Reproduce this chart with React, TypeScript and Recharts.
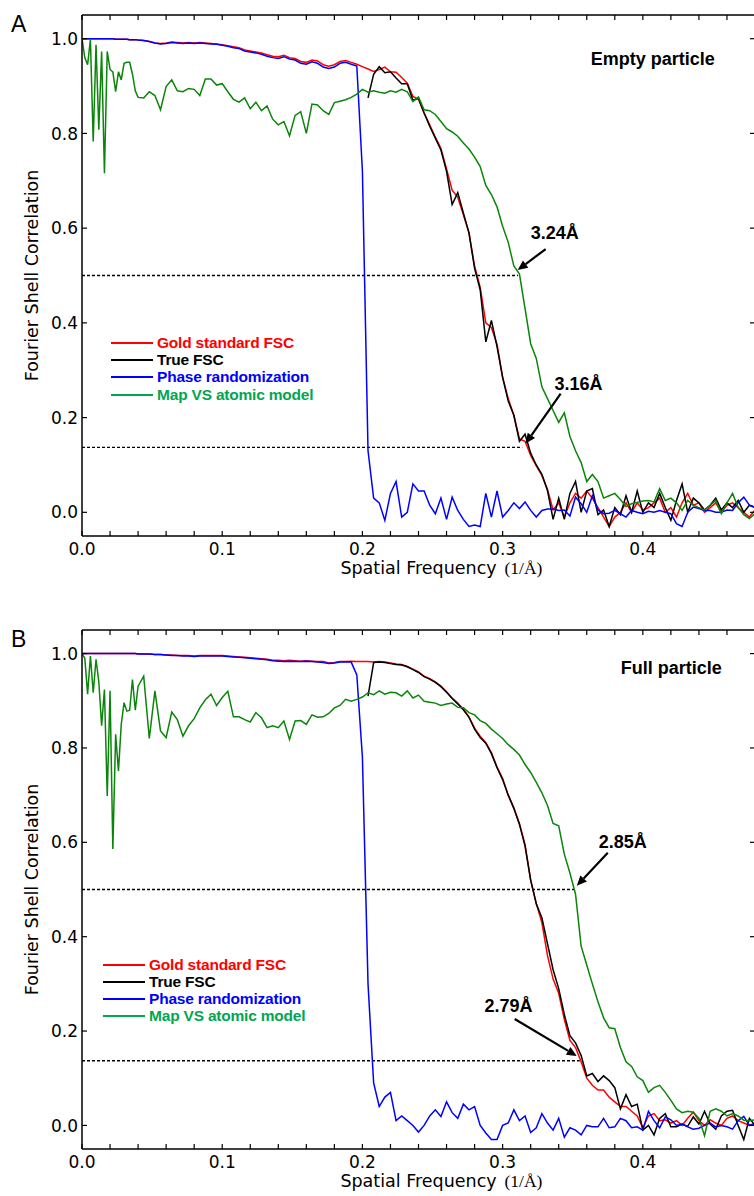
import React from "react";
import {
  LineChart,
  Line,
  XAxis,
  YAxis,
  ReferenceLine,
  ReferenceDot,
  Legend,
} from "recharts";

// shell frequencies (1/Å): 0.002 steps up to 0.04, then 0.004 steps up to 0.48
const freq: number[] = [];
for (let j = 0; j <= 20; j++) freq.push((j * 2) / 1000);
for (let k = 0; k < 110; k++) freq.push((44 + k * 4) / 1000);

const xTicks = [
  0, 0.02, 0.04, 0.06, 0.08, 0.1, 0.12, 0.14, 0.16, 0.18, 0.2, 0.22, 0.24,
  0.26, 0.28, 0.3, 0.32, 0.34, 0.36, 0.38, 0.4, 0.42, 0.44, 0.46, 0.48,
];
const yTicks = [0, 0.2, 0.4, 0.6, 0.8, 1.0];

// ---- panel A : empty particle ----
const goldA = [
  1.0, 1.0, 1.0, 1.0, 1.0, 1.0, 1.0, 1.0, 1.0, 1.0,
  1.0, 1.0, 0.999, 0.999, 0.999, 0.999, 0.999, 0.998, 0.998, 0.998,
  0.997,
  0.996, 0.994, 0.991, 0.99, 0.991, 0.993, 0.992, 0.991, 0.992, 0.991,
  0.992, 0.991, 0.99, 0.989, 0.987, 0.985, 0.983, 0.981, 0.976, 0.974,
  0.972, 0.97, 0.966, 0.963, 0.962, 0.965, 0.96, 0.958, 0.952, 0.95,
  0.955, 0.953, 0.945, 0.942, 0.945, 0.952, 0.954, 0.95, 0.946, 0.941,
  0.936, 0.931, 0.935, 0.94, 0.93, 0.929, 0.918, 0.906, 0.878, 0.872,
  0.843, 0.818, 0.792, 0.768, 0.725, 0.68, 0.665, 0.628, 0.59, 0.52,
  0.475, 0.4, 0.39, 0.355, 0.285, 0.24, 0.205, 0.155, 0.15, 0.12,
  0.098, 0.078, 0.048, 0.005, 0.02, -0.01, 0.02, 0.04, 0.03, 0.045,
  0.03, 0.01, -0.01, -0.03, -0.01, 0.0, 0.02, 0.0, 0.02, 0.005,
  0.01, 0.02, 0.03, 0.0, 0.01, -0.01, 0.02, 0.04, 0.015, 0.02,
  0.0, 0.01, 0.02, 0.0, 0.015, 0.02, 0.01, 0.0, -0.01, 0.005,
];
// true FSC only plotted past the randomisation point
const trueStartA = 61;
const trueA = [
  0.875, 0.925, 0.941, 0.928, 0.93, 0.917, 0.905, 0.905, 0.87, 0.874,
  0.843, 0.815, 0.79, 0.765, 0.72, 0.65, 0.675, 0.632, 0.59, 0.515,
  0.47, 0.36, 0.405, 0.35, 0.285, 0.235, 0.205, 0.15, 0.165, 0.125,
  0.1, 0.08, 0.046, -0.015, 0.03, -0.015, 0.04, 0.065, 0.0, 0.045,
  0.05, -0.005, 0.005, -0.03, 0.01, -0.005, 0.035, 0.0, 0.045, 0.0,
  0.02, 0.01, 0.04, 0.01, -0.017, 0.025, 0.06, 0.0, 0.03, 0.02,
  0.005, 0.015, 0.03, 0.005, 0.02, 0.01, 0.025, 0.0, 0.015, 0.01,
];
const phaseA = [
  1.0, 1.0, 1.0, 1.0, 1.0, 1.0, 1.0, 1.0, 1.0, 1.0,
  1.0, 1.0, 0.999, 0.999, 0.999, 0.999, 0.999, 0.998, 0.998, 0.998,
  0.997,
  0.996, 0.994, 0.991, 0.989, 0.99, 0.992, 0.991, 0.99, 0.991, 0.99,
  0.991, 0.99, 0.989, 0.988, 0.986, 0.984, 0.981, 0.979, 0.974, 0.972,
  0.97, 0.967, 0.963, 0.96, 0.958, 0.962, 0.957, 0.955, 0.948, 0.946,
  0.951, 0.948, 0.94, 0.937, 0.94, 0.948, 0.95, 0.946, 0.942, 0.72,
  0.13, 0.03, 0.02, -0.017, 0.04, 0.065, -0.01, 0.0, 0.06, 0.045,
  0.045, 0.015, -0.003, 0.03, -0.015, 0.032, 0.004, -0.015, -0.03, -0.027,
  -0.03, 0.04, -0.01, 0.045, -0.01, 0.004, 0.02, 0.008, 0.022, 0.004,
  -0.01, 0.004, 0.007, 0.007, 0.004, 0.005, -0.008, 0.032, 0.018, 0.0,
  0.035, 0.005, -0.003, -0.002, 0.004, -0.003, -0.01, 0.004, 0.0, -0.003,
  0.002, 0.0, 0.004, 0.0, -0.003, -0.024, -0.03, 0.0, 0.011, 0.008,
  0.004, 0.004, 0.0, 0.0, 0.005, 0.004, 0.02, 0.032, 0.015, 0.011,
];
const modelA = [
  1.0, 0.96, 0.945, 0.998, 0.783, 0.987, 0.808, 0.973, 0.716, 0.973,
  0.935, 0.93, 0.888, 0.93, 0.913, 0.948, 0.95, 0.95, 0.925, 0.89,
  0.876,
  0.875, 0.888, 0.88, 0.85, 0.899, 0.913, 0.89, 0.888, 0.895, 0.893,
  0.88, 0.915, 0.915, 0.902, 0.905, 0.888, 0.872, 0.866, 0.875, 0.852,
  0.866, 0.848, 0.858, 0.83, 0.818, 0.825, 0.795, 0.838, 0.846, 0.8,
  0.862, 0.86, 0.848, 0.84, 0.865, 0.868, 0.871, 0.876, 0.883, 0.893,
  0.887, 0.89, 0.887, 0.885, 0.89, 0.887, 0.893, 0.888, 0.867, 0.877,
  0.85, 0.848, 0.84, 0.825, 0.81, 0.803, 0.794, 0.78, 0.767, 0.75,
  0.73, 0.69, 0.671, 0.645, 0.604, 0.57, 0.52, 0.503, 0.43, 0.356,
  0.325, 0.265, 0.24, 0.215, 0.19, 0.21, 0.16, 0.13, 0.105, 0.065,
  0.08, 0.065, 0.03, 0.035, 0.04, 0.027, 0.012, 0.018, 0.021, 0.024,
  0.025, 0.022, 0.05, 0.025, 0.03, 0.02, 0.004, 0.025, 0.015, 0.01,
  0.005, 0.015, 0.025, -0.003, 0.02, 0.04, 0.01, -0.005, -0.013, -0.003,
];

// ---- panel B : full particle ----
const goldB = [
  1.0, 1.0, 1.0, 1.0, 1.0, 1.0, 1.0, 1.0, 1.0, 1.0,
  1.0, 1.0, 1.0, 1.0, 1.0, 1.0, 1.0, 1.0, 1.0, 1.0,
  0.999,
  0.999, 0.999, 0.998, 0.998, 0.997, 0.997, 0.996, 0.996, 0.996, 0.995,
  0.996, 0.996, 0.996, 0.996, 0.996, 0.995, 0.994, 0.993, 0.992, 0.991,
  0.99, 0.989, 0.988, 0.986, 0.986, 0.985, 0.986, 0.985, 0.984, 0.985,
  0.984, 0.983, 0.983, 0.98, 0.981, 0.983, 0.983, 0.984, 0.983, 0.983,
  0.983, 0.982, 0.983, 0.982, 0.98, 0.978, 0.977, 0.973, 0.967, 0.961,
  0.952, 0.947, 0.94, 0.931, 0.919, 0.906, 0.895, 0.882, 0.866, 0.842,
  0.825, 0.811, 0.79, 0.76, 0.735, 0.7, 0.673, 0.64, 0.595, 0.52,
  0.47, 0.43, 0.36, 0.31, 0.28, 0.225, 0.18, 0.165, 0.135, 0.1,
  0.085, 0.075, 0.075, 0.06, 0.05, 0.04, 0.04, 0.03, 0.02, -0.005,
  0.02, 0.025, 0.01, 0.012, 0.005, 0.01, 0.0, 0.015, 0.028, 0.01,
  0.0, 0.012, 0.005, 0.0, 0.015, 0.02, 0.01, 0.005, 0.0, 0.005,
];
const trueStartB = 61;
const trueB = [
  0.91, 0.981, 0.982, 0.981, 0.979, 0.977, 0.976, 0.972, 0.966, 0.96,
  0.951, 0.946, 0.939, 0.93, 0.918, 0.905, 0.893, 0.881, 0.865, 0.84,
  0.822, 0.81, 0.788, 0.758, 0.733, 0.7, 0.672, 0.638, 0.592, 0.52,
  0.47, 0.44, 0.385, 0.33, 0.29, 0.235, 0.19, 0.175, 0.148, 0.105,
  0.11, 0.093, 0.105, 0.095, 0.08, 0.035, 0.065, 0.04, 0.045, -0.01,
  0.0, -0.02, 0.015, 0.025, -0.003, -0.003, 0.003, -0.002, 0.018, 0.003,
  0.03, 0.003, -0.008, 0.02, 0.03, 0.032, 0.0, -0.03, 0.015, 0.0,
];
const phaseB = [
  1.0, 1.0, 1.0, 1.0, 1.0, 1.0, 1.0, 1.0, 1.0, 1.0,
  1.0, 1.0, 1.0, 1.0, 1.0, 1.0, 1.0, 1.0, 1.0, 1.0,
  0.999,
  0.999, 0.999, 0.998, 0.998, 0.997, 0.996, 0.996, 0.995, 0.995, 0.994,
  0.995, 0.995, 0.995, 0.995, 0.995, 0.994, 0.993, 0.992, 0.991, 0.99,
  0.989, 0.988, 0.987, 0.985, 0.984, 0.983, 0.984, 0.983, 0.983, 0.984,
  0.983, 0.982, 0.981, 0.979, 0.98, 0.982, 0.982, 0.982, 0.955, 0.78,
  0.3, 0.09, 0.04, 0.06, 0.07, 0.01, 0.02, 0.01, 0.0, -0.014,
  0.0, 0.02, 0.033, 0.019, 0.05, 0.027, 0.015, 0.045, 0.033, 0.04,
  0.0, -0.016, -0.03, -0.03, 0.0, 0.005, 0.033, 0.01, 0.02, -0.015,
  -0.005, 0.025, 0.005, -0.01, 0.015, -0.025, -0.005, -0.01, -0.02, 0.0,
  -0.003, -0.003, 0.015, -0.005, -0.003, 0.015, 0.01, -0.005, -0.003, -0.01,
  0.03, 0.01, -0.005, 0.018, 0.012, 0.0, 0.003, -0.003, -0.008, -0.006,
  0.0, 0.005, -0.003, 0.0, -0.003, -0.008, 0.01, 0.019, 0.0, 0.003,
];
const modelB = [
  1.0, 0.99, 0.914, 0.995, 0.917, 0.988, 0.94, 0.847, 0.924, 0.698,
  0.921, 0.586, 0.829, 0.751, 0.85, 0.896, 0.878, 0.88, 0.945, 0.88,
  0.931,
  0.952, 0.82, 0.921, 0.836, 0.822, 0.876, 0.86, 0.825, 0.847, 0.862,
  0.885, 0.902, 0.914, 0.89, 0.907, 0.92, 0.866, 0.866, 0.86, 0.855,
  0.875, 0.864, 0.843, 0.847, 0.843, 0.857, 0.818, 0.857, 0.858, 0.85,
  0.87, 0.865, 0.866, 0.873, 0.885, 0.89, 0.903, 0.899, 0.903, 0.908,
  0.917, 0.913, 0.921, 0.914, 0.918, 0.917, 0.91, 0.921, 0.906, 0.912,
  0.899, 0.897, 0.895, 0.89, 0.893, 0.895, 0.886, 0.885, 0.875, 0.87,
  0.858, 0.852, 0.84, 0.83, 0.82, 0.807, 0.797, 0.785, 0.765, 0.748,
  0.727, 0.705, 0.678, 0.64, 0.635, 0.575, 0.535, 0.49, 0.38, 0.34,
  0.3, 0.262, 0.228, 0.207, 0.205, 0.165, 0.135, 0.125, 0.103, 0.095,
  0.07, 0.08, 0.085, 0.07, 0.053, 0.035, 0.027, 0.03, 0.028, 0.015,
  -0.022, 0.03, 0.035, 0.03, 0.02, 0.025, 0.02, 0.011, 0.01, 0.012,
];

// the model curve is tied to the top / right axes (same domains) so those
// frame axes get data and render their inward ticks
const SERIES = [
  { key: "gold", name: "Gold standard FSC", color: "#ff0000", legend: "#ff0000", frame: false },
  { key: "truefsc", name: "True FSC", color: "#000000", legend: "#000000", frame: false },
  { key: "phase", name: "Phase randomization", color: "#0000ff", legend: "#0000ff", frame: false },
  { key: "model", name: "Map VS atomic model", color: "#0a850a", legend: "#00a651", frame: true },
];

interface Row {
  f: number;
  gold: number;
  truefsc: number | null;
  phase: number;
  model: number;
}

function buildRows(
  gold: number[],
  trueFsc: number[],
  trueStart: number,
  phase: number[],
  model: number[]
): Row[] {
  return freq.map((f, i) => ({
    f,
    gold: gold[i],
    truefsc: i >= trueStart ? trueFsc[i - trueStart] : null,
    phase: phase[i],
    model: model[i],
  }));
}

interface Note {
  text: string;
  x: number;
  y: number;
}
interface Arrow {
  from: [number, number];
  to: [number, number];
}

const FONT = "DejaVu Sans";
const ARIAL = "Liberation Sans";
const TICK_LEN = 5;
const TICK_W = 1.2;
const X_DOMAIN: [number, number] = [0, 0.48];
const Y_DOMAIN: [number, number] = [-0.05, 1.05];

function fmtX(v: number) {
  const t = v * 10;
  return Math.abs(t - Math.round(t)) < 1e-6 ? v.toFixed(1) : "";
}

// inward ticks drawn by hand; with tickSize 0 recharts hands over the axis position
function BottomTick({ x, y, payload }: any) {
  const label = fmtX(payload.value);
  return (
    <g>
      <line x1={x} y1={y} x2={x} y2={y - TICK_LEN} stroke="#000" strokeWidth={TICK_W} />
      {label && (
        <text x={x} y={y + 7} dy="0.72em" textAnchor="middle" fontFamily={FONT} fontSize={17} fill="#000">
          {label}
        </text>
      )}
    </g>
  );
}

function TopTick({ x, y }: any) {
  return <line x1={x} y1={y} x2={x} y2={y + TICK_LEN} stroke="#000" strokeWidth={TICK_W} />;
}

function LeftTick({ x, y, payload }: any) {
  return (
    <g>
      <line x1={x} y1={y} x2={x + TICK_LEN} y2={y} stroke="#000" strokeWidth={TICK_W} />
      <text x={x - 4} y={y} dy="0.36em" textAnchor="end" fontFamily={FONT} fontSize={17} fill="#000">
        {Number(payload.value).toFixed(1)}
      </text>
    </g>
  );
}

function RightTick({ x, y }: any) {
  return <line x1={x} y1={y} x2={x - TICK_LEN} y2={y} stroke="#000" strokeWidth={TICK_W} />;
}

function ArrowShape(props: any) {
  const { x1, y1, x2, y2 } = props;
  const dx = x2 - x1;
  const dy = y2 - y1;
  const len = Math.hypot(dx, dy) || 1;
  const ux = dx / len;
  const uy = dy / len;
  const hl = 10;
  const hw = 4.5;
  const bx = x2 - ux * hl;
  const by = y2 - uy * hl;
  return (
    <g>
      <line x1={x1} y1={y1} x2={bx} y2={by} stroke="#000" strokeWidth={2.2} />
      <polygon
        points={`${x2},${y2} ${bx - uy * hw},${by + ux * hw} ${bx + uy * hw},${by - ux * hw}`}
        fill="#000"
      />
    </g>
  );
}

function XLabel({ viewBox }: any) {
  const cx = viewBox.x + viewBox.width / 2;
  const y = viewBox.y + 38;
  return (
    <g>
      <text x={cx} y={y} textAnchor="middle" fontFamily={FONT} fontSize={17.5} fill="#000">
        Spatial Frequency
      </text>
      <text x={cx + 86} y={y} fontFamily="Liberation Serif" fontSize={17.5} fill="#000">
        (1/Å)
      </text>
    </g>
  );
}

function YLabel({ viewBox }: any) {
  const x = viewBox.x + 38;
  const cy = viewBox.y + viewBox.height / 2;
  return (
    <text
      x={x}
      y={cy}
      textAnchor="middle"
      transform={`rotate(-90, ${x}, ${cy})`}
      fontFamily={FONT}
      fontSize={17.5}
      fill="#000"
    >
      Fourier Shell Correlation
    </text>
  );
}

function makeLegend(rowHeight: number) {
  return function FscLegend({ payload }: any) {
    const items = SERIES.filter((s) =>
      (payload || []).some((e: any) => e.dataKey === s.key)
    );
    return (
      <div style={{ whiteSpace: "nowrap", width: "max-content" }}>
        {items.map((s) => (
          <div
            key={s.key}
            style={{ display: "flex", alignItems: "center", height: rowHeight }}
          >
            <span
              style={{
                display: "inline-block",
                flexShrink: 0,
                width: 42,
                height: 0,
                borderTop: `2px solid ${s.legend}`,
                marginRight: 4,
              }}
            />
            <span
              style={{
                flexShrink: 0,
                color: s.legend,
                fontFamily: ARIAL,
                fontWeight: "bold",
                fontSize: 15.5,
                letterSpacing: -0.2,
              }}
            >
              {s.name}
            </span>
          </div>
        ))}
      </div>
    );
  };
}

interface PanelProps {
  top: number;
  height: number;
  plotHeight: number;
  rows: Row[];
  letter: string;
  title: Note;
  notes: Note[];
  arrows: Arrow[];
  halfCut: number;
  lowCut: number;
  legendLeft: number;
  legendTop: number;
  legendRow: number;
}

const CUT_LOW = 0.137;

function Panel(p: PanelProps) {
  const axisLine = { stroke: "#000", strokeWidth: 1.5 };
  return (
    <div
      style={{
        position: "absolute",
        left: 0,
        top: p.top,
        width: 754,
        height: p.height,
        overflow: "hidden",
      }}
    >
      <div
        style={{
          position: "absolute",
          left: 11,
          top: 13,
          fontFamily: ARIAL,
          fontSize: 23,
          lineHeight: "23px",
          color: "#000",
          zIndex: 2,
        }}
      >
        {p.letter}
      </div>
      <LineChart
        width={756}
        height={p.height}
        data={p.rows}
        margin={{ top: 14, right: 0, bottom: 0, left: 0 }}
      >
        <XAxis
          dataKey="f"
          type="number"
          domain={X_DOMAIN}
          allowDataOverflow
          ticks={xTicks}
          interval={0}
          tickSize={0}
          tickMargin={0}
          tickLine={false}
          height={p.height - 15 - p.plotHeight}
          tick={BottomTick}
          axisLine={axisLine}
          label={{ content: XLabel }}
        />
        <XAxis
          xAxisId="top"
          orientation="top"
          dataKey="f"
          type="number"
          domain={X_DOMAIN}
          allowDataOverflow
          ticks={xTicks}
          interval={0}
          tickSize={0}
          tickMargin={0}
          tickLine={false}
          height={1}
          tick={TopTick}
          axisLine={axisLine}
        />
        <YAxis
          type="number"
          domain={Y_DOMAIN}
          allowDataOverflow
          ticks={yTicks}
          interval={0}
          width={82}
          tickSize={0}
          tickMargin={0}
          tickLine={false}
          tick={LeftTick}
          axisLine={axisLine}
          label={{ content: YLabel }}
        />
        <YAxis
          yAxisId="right"
          orientation="right"
          type="number"
          domain={Y_DOMAIN}
          allowDataOverflow
          ticks={yTicks}
          interval={0}
          width={1}
          tickSize={0}
          tickMargin={0}
          tickLine={false}
          tick={RightTick}
          axisLine={axisLine}
        />
        <ReferenceLine
          segment={[
            { x: 0, y: 0.5 },
            { x: p.halfCut, y: 0.5 },
          ]}
          stroke="#000"
          strokeWidth={1.3}
          strokeDasharray="3 2"
        />
        <ReferenceLine
          segment={[
            { x: 0, y: CUT_LOW },
            { x: p.lowCut, y: CUT_LOW },
          ]}
          stroke="#000"
          strokeWidth={1.3}
          strokeDasharray="3 2"
        />
        {SERIES.map((s) => (
          <Line
            key={s.key}
            type="linear"
            dataKey={s.key}
            name={s.name}
            xAxisId={s.frame ? "top" : 0}
            yAxisId={s.frame ? "right" : 0}
            stroke={s.color}
            strokeWidth={1.5}
            dot={false}
            activeDot={false}
            isAnimationActive={false}
          />
        ))}
        {p.arrows.map((a, i) => (
          <ReferenceLine
            key={`arrow-${i}`}
            segment={[
              { x: a.from[0], y: a.from[1] },
              { x: a.to[0], y: a.to[1] },
            ]}
            shape={ArrowShape}
          />
        ))}
        {[p.title, ...p.notes].map((n, i) => (
          <ReferenceDot
            key={`note-${i}`}
            x={n.x}
            y={n.y}
            r={0}
            shape={(props: any) => (
              <text
                x={props.cx}
                y={props.cy}
                fontFamily={ARIAL}
                fontWeight="bold"
                fontSize={18}
                fill="#000"
              >
                {n.text}
              </text>
            )}
          />
        ))}
        <Legend
          content={makeLegend(p.legendRow)}
          wrapperStyle={{
            position: "absolute",
            left: p.legendLeft,
            top: p.legendTop,
            width: 0,
            height: 0,
            overflow: "visible",
          }}
        />
      </LineChart>
    </div>
  );
}

const rowsA = buildRows(goldA, trueA, trueStartA, phaseA, modelA);
const rowsB = buildRows(goldB, trueB, trueStartB, phaseB, modelB);

export default function App() {
  return (
    <div
      style={{
        position: "absolute",
        left: 0,
        top: 0,
        width: 754,
        height: 1196,
        overflow: "hidden",
        background: "#fff",
      }}
    >
      <Panel
        top={0}
        height={590}
        plotHeight={521}
        rows={rowsA}
        letter="A"
        title={{ text: "Empty particle", x: 0.3629, y: 0.945 }}
        notes={[
          { text: "3.24Å", x: 0.32, y: 0.577 },
          { text: "3.16Å", x: 0.337, y: 0.259 },
        ]}
        arrows={[
          { from: [0.3307, 0.5558], to: [0.3107, 0.5116] },
          { from: [0.3414, 0.2505], to: [0.3164, 0.1453] },
        ]}
        halfCut={0.311}
        lowCut={0.314}
        legendLeft={111}
        legendTop={334}
        legendRow={17.4}
      />
      <Panel
        top={615}
        height={581}
        plotHeight={519}
        rows={rowsB}
        letter="B"
        title={{ text: "Full particle", x: 0.3843, y: 0.957 }}
        notes={[
          { text: "2.85Å", x: 0.3686, y: 0.589 },
          { text: "2.79Å", x: 0.2871, y: 0.241 },
        ]}
        arrows={[
          { from: [0.375, 0.5778], to: [0.3529, 0.5079] },
          { from: [0.3086, 0.2254], to: [0.3529, 0.1471] },
        ]}
        halfCut={0.351}
        lowCut={0.355}
        legendLeft={103}
        legendTop={341}
        legendRow={17}
      />
    </div>
  );
}
